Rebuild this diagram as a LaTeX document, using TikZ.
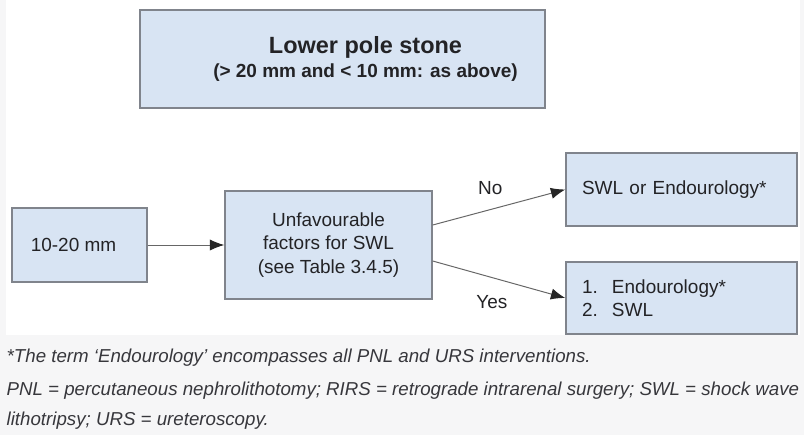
\documentclass[tikz,border=0pt]{standalone}
\usepackage{fontspec}
\setmainfont{Liberation Sans}
\usetikzlibrary{arrows.meta,positioning}
\definecolor{boxblue}{RGB}{216,228,243}
\definecolor{boxgrey}{RGB}{128,132,140}
\definecolor{pagegrey}{RGB}{246,246,247}
\definecolor{notegrey}{RGB}{55,55,60}
\definecolor{textdark}{RGB}{35,35,38}

\begin{document}
\begin{tikzpicture}[
			box/.style={rectangle, draw=boxgrey, line width=1pt, fill=boxblue,
				align=center, inner sep=0pt, text=textdark,
				font=\fontsize{13.5}{16.7}\selectfont},
			res/.style={box, align=left, text width=4.975cm,
				minimum width=5.775cm},
			arr/.style={-{Latex[length=3.6mm,width=2.8mm,color=black!85]},
				line width=0.7pt, black!60},
			lbl/.style={inner sep=0pt, text=textdark, font=\fontsize{13.5}{16}\selectfont},
			note/.style={anchor=base west, inner sep=0pt, text=notegrey,
				font=\fontsize{13.3}{16}\selectfont\itshape}]
			
			% Page
			\useasboundingbox (0,0) rectangle (20.1,-10.875);
			\fill[pagegrey] (0,0) rectangle (20.1,-10.875);
			\fill[white] (0.15,0) rectangle (20.0,-8.375);
			
			% Header
			\node[box, minimum width=10.125cm, minimum height=2.45cm,
				font=\bfseries\fontsize{13.5}{17}\selectfont] (S) at (8.5625,-1.475)
				{\hspace*{1.15cm}{\fontsize{16.7}{17}\selectfont Lower pole stone}\\\hspace*{1.15cm}(> 20 mm and < 10 mm: as above)};
			
			% Row
			\node[box, minimum width=3.375cm, minimum height=1.85cm] (R) at (1.9875,-6.125) {10-20 mm\hspace*{0.3cm}};
			\node[box, minimum width=5.175cm, minimum height=2.7cm] (U) at (8.2125,-6.125)
				{Unfavourable\\factors for SWL\\(see Table 3.4.5)};
			
			% Outcomes
			\node[res, minimum height=1.825cm] (N) at (17.0375,-4.7375) {SWL or Endourology*};
			\node[res, minimum height=1.8cm] (Y) at (17.0375,-7.45)
				{\makebox[0.75cm][l]{1.}Endourology*\\\makebox[0.75cm][l]{2.}SWL};
			
			% Arrows
			\draw[arr] (R) -- (U);
			\draw[arr] ([yshift=0.5cm]U.east) -- node[lbl, midway, above=0.3cm, xshift=-0.22cm] {No} (N.west);
			\draw[arr] ([yshift=-0.4cm]U.east) -- node[lbl, midway, below=0.38cm, xshift=-0.18cm] {Yes} (Y.west);
			
			% Footnote
			\node[note] (F1) at (0.16,-9.05) {*The term `Endourology' encompasses all PNL and URS interventions.};
			\node[note] (F2) at (0.16,-9.875) {PNL = percutaneous nephrolithotomy; RIRS = retrograde intrarenal surgery; SWL = shock wave};
			\node[note] (F3) at (0.16,-10.625) {lithotripsy; URS = ureteroscopy.};
		\end{tikzpicture}
\end{document}
